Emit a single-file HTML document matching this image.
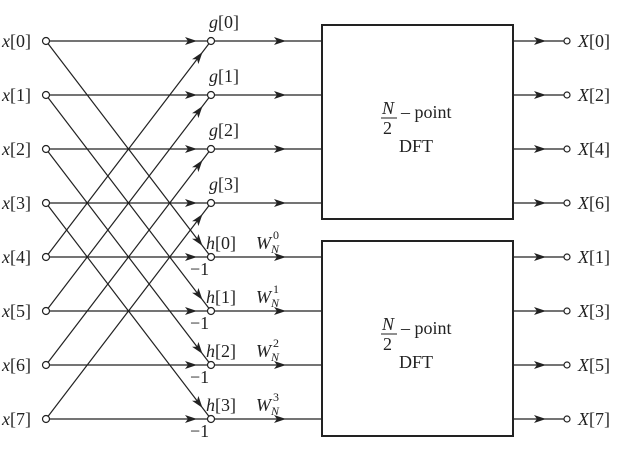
<!DOCTYPE html>
<html><head><style>body{margin:0;background:#fff}</style></head><body>
<svg width="620" height="454" xmlns="http://www.w3.org/2000/svg" font-family="Liberation Serif, serif" font-size="18" fill="#222">
<defs><marker id="a" markerWidth="12" markerHeight="8" refX="6" refY="4" orient="auto" markerUnits="userSpaceOnUse"><path d="M0,0L12,4L0,8L3,4z" fill="#222"/></marker></defs>
<g stroke="#222" stroke-width="1.2" fill="none" id="g"></g>
<script>
const g=document.getElementById('g');const NS='http://www.w3.org/2000/svg';
function el(t,a){const e=document.createElementNS(NS,t);for(const k in a)e.setAttribute(k,a[k]);g.appendChild(e);return e;}
const Y=k=>41+54*k, X0=46, X1=211;
function seg(x1,y1,x2,y2){
 const dx=x2-x1,dy=y2-y1,L=Math.hypot(dx,dy),f=(L-20)/L;
 el('line',{x1:x1+dx*3.5/L,y1:y1+dy*3.5/L,x2:x1+dx*f,y2:y1+dy*f,'marker-end':'url(#a)'});
 el('line',{x1:x1+dx*f,y1:y1+dy*f,x2:x2-dx*3.5/L,y2:y2-dy*3.5/L});
}
for(let k=0;k<4;k++){
 seg(X0,Y(k),X1,Y(k)); seg(X0,Y(k+4),X1,Y(k));
 seg(X0,Y(k),X1,Y(k+4)); seg(X0,Y(k+4),X1,Y(k+4));
}
for(let k=0;k<8;k++){
 el('circle',{cx:X0,cy:Y(k),r:3.5,fill:'#fff'});
 el('circle',{cx:X1,cy:Y(k),r:3.5,fill:'#fff'});
 el('line',{x1:X1+3.5,y1:Y(k),x2:280,y2:Y(k),'marker-end':'url(#a)'});
 el('line',{x1:280,y1:Y(k),x2:322,y2:Y(k)});
 el('line',{x1:513,y1:Y(k),x2:540,y2:Y(k),'marker-end':'url(#a)'});
 el('line',{x1:540,y1:Y(k),x2:564,y2:Y(k)});
 el('circle',{cx:567,cy:Y(k),r:3,fill:'#fff'});
}
el('rect',{x:322,y:25,width:191,height:194,'stroke-width':2});
el('rect',{x:322,y:241,width:191,height:195,'stroke-width':2});
</script>
<g>
<g id="xl">
<text x="2" y="47"><tspan font-style="italic">x</tspan>[0]</text><text x="2" y="101"><tspan font-style="italic">x</tspan>[1]</text><text x="2" y="155"><tspan font-style="italic">x</tspan>[2]</text><text x="2" y="209"><tspan font-style="italic">x</tspan>[3]</text>
<text x="2" y="263"><tspan font-style="italic">x</tspan>[4]</text><text x="2" y="317"><tspan font-style="italic">x</tspan>[5]</text><text x="2" y="371"><tspan font-style="italic">x</tspan>[6]</text><text x="2" y="425"><tspan font-style="italic">x</tspan>[7]</text>
</g>
<text x="209" y="28"><tspan font-style="italic">g</tspan>[0]</text>
<text x="209" y="82"><tspan font-style="italic">g</tspan>[1]</text>
<text x="209" y="136"><tspan font-style="italic">g</tspan>[2]</text>
<text x="209" y="190"><tspan font-style="italic">g</tspan>[3]</text>
<text x="206" y="249"><tspan font-style="italic">h</tspan>[0]</text>
<text x="206" y="303"><tspan font-style="italic">h</tspan>[1]</text>
<text x="206" y="357"><tspan font-style="italic">h</tspan>[2]</text>
<text x="206" y="411"><tspan font-style="italic">h</tspan>[3]</text>
<g font-style="italic">
<text x="256" y="249">W</text><text x="256" y="303">W</text><text x="256" y="357">W</text><text x="256" y="411">W</text>
<text x="271" y="253" font-size="12">N</text><text x="271" y="307" font-size="12">N</text><text x="271" y="361" font-size="12">N</text><text x="271" y="415" font-size="12">N</text>
</g>
<g font-size="12"><text x="273" y="239">0</text><text x="273" y="293">1</text><text x="273" y="347">2</text><text x="273" y="401">3</text></g>
<text x="190" y="275">−1</text><text x="190" y="329">−1</text><text x="190" y="383">−1</text><text x="190" y="437">−1</text>
<text x="578" y="47"><tspan font-style="italic">X</tspan>[0]</text>
<text x="578" y="101"><tspan font-style="italic">X</tspan>[2]</text>
<text x="578" y="155"><tspan font-style="italic">X</tspan>[4]</text>
<text x="578" y="209"><tspan font-style="italic">X</tspan>[6]</text>
<text x="578" y="263"><tspan font-style="italic">X</tspan>[1]</text>
<text x="578" y="317"><tspan font-style="italic">X</tspan>[3]</text>
<text x="578" y="371"><tspan font-style="italic">X</tspan>[5]</text>
<text x="578" y="425"><tspan font-style="italic">X</tspan>[7]</text>
<text x="382" y="114" font-style="italic">N</text><line x1="381" y1="118" x2="397" y2="118" stroke="#222"/>
<text x="383" y="134">2</text><text x="401" y="118">– point</text><text x="399" y="152">DFT</text>
<text x="382" y="330" font-style="italic">N</text><line x1="381" y1="334" x2="397" y2="334" stroke="#222"/>
<text x="383" y="350">2</text><text x="401" y="334">– point</text><text x="399" y="368">DFT</text>
</g>
</svg>
</body></html>
